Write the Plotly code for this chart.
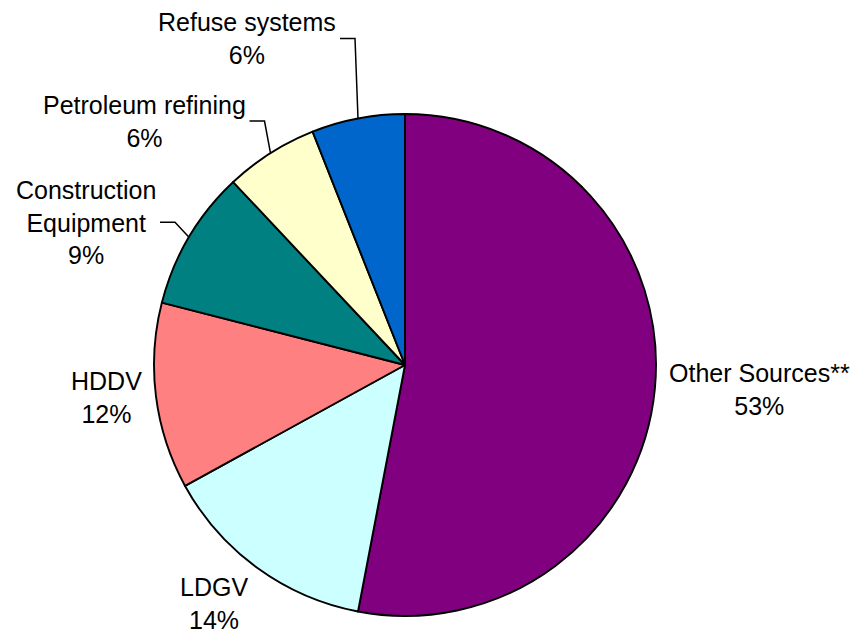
import math
import plotly.graph_objects as go

# Emission sources and their shares (percent)
sources = ["Other Sources**", "LDGV", "HDDV", "Construction<br>Equipment",
           "Petroleum refining", "Refuse systems"]
shares = [53, 14, 12, 9, 6, 6]
slice_colors = ["#800080", "#CCFFFF", "#FF8080", "#008080", "#FFFFCC", "#0066CC"]

# Canvas and pie geometry (pixels)
W, H = 854, 639
CX, CY, R = 405, 365, 251
FONT = dict(family="Liberation Sans, Arial, sans-serif", size=25, color="black")

# Labels pulled away from the pie with a leader line: offset of the elbow
# from the slice's outer edge point (dx, dy in pixels)
leader_offsets = {
    "Construction<br>Equipment": (-14, -15),
    "Petroleum refining": (-6, -32),
    "Refuse systems": (-3, -80),
}
LABEL_GAP = 263      # radial distance of un-pulled labels from the centre
BELOW_LIFT = 7       # labels hanging below the pie sit a little higher
TAIL = 15            # horizontal run of a leader line

fig = go.Figure()
fig.add_trace(go.Pie(
    labels=sources,
    values=shares,
    sort=False,
    direction="clockwise",
    rotation=0,
    textinfo="none",
    hoverinfo="label+percent",
    showlegend=False,
    marker=dict(colors=slice_colors, line=dict(color="black", width=1.9)),
    domain=dict(x=[(CX - R) / W, (CX + R) / W],
                y=[1 - (CY + R) / H, 1 - (CY - R) / H]),
))

total = sum(shares)
annotations = []
shapes = []
start = 0.0
for name, val in zip(sources, shares):
    sweep = val / total * 360.0
    mid = math.radians(start + sweep / 2)
    start += sweep
    ux, uy = math.sin(mid), -math.cos(mid)
    text = f"{name}<br>{round(val / total * 100)}%"
    if name in leader_offsets:
        ex, ey = CX + R * ux, CY + R * uy
        dx, dy = leader_offsets[name]
        kx, ky = ex + dx, ey + dy
        tx = kx - TAIL
        shapes.append(dict(type="path", xref="x", yref="y",
                           path=f"M {ex:.1f} {ey:.1f} L {kx:.1f} {ky:.1f} L {tx:.1f} {ky:.1f}",
                           line=dict(color="black", width=1.5)))
        annotations.append(dict(x=tx - 2, y=ky, xref="x", yref="y", text=text,
                                showarrow=False, xanchor="right", yanchor="middle",
                                align="center", font=FONT))
    else:
        ax, ay = CX + LABEL_GAP * ux, CY + LABEL_GAP * uy
        xa = "left" if ux > 0 else "right"
        ya = "middle" if abs(uy) < 0.3 else ("top" if uy > 0 else "bottom")
        if ya == "top":
            ay -= BELOW_LIFT
        annotations.append(dict(x=ax, y=ay, xref="x", yref="y", text=text,
                                showarrow=False, xanchor=xa, yanchor=ya,
                                align="center", font=FONT))

fig.update_layout(
    width=W, height=H,
    margin=dict(l=0, r=0, t=0, b=0),
    paper_bgcolor="white", plot_bgcolor="white",
    xaxis=dict(range=[0, W], visible=False, domain=[0, 1], fixedrange=True),
    yaxis=dict(range=[H, 0], visible=False, domain=[0, 1], fixedrange=True),
    annotations=annotations,
    shapes=shapes,
    font=FONT,
)

fig.write_html("out.html")
